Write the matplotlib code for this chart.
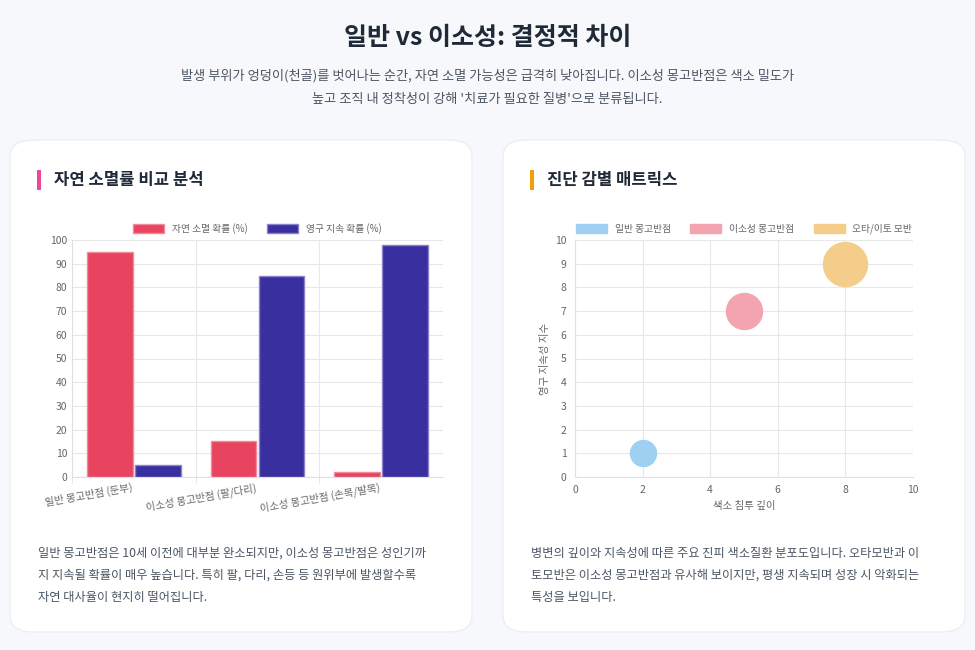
import numpy as np
import matplotlib
matplotlib.use("Agg")
import matplotlib.pyplot as plt
from matplotlib.patches import FancyBboxPatch, Rectangle, Patch

plt.rcParams['font.family'] = ['Noto Sans CJK KR', 'DejaVu Sans']

# --- data ---------------------------------------------------------------------
bar_cats = ["일반 몽고반점 (둔부)", "이소성 몽고반점 (팔/다리)", "이소성 몽고반점 (손목/발목)"]
resolve_pct = [95, 15, 2]
persist_pct = [5, 85, 98]
bar_labels = ["자연 소멸 확률 (%)", "영구 지속 확률 (%)"]

bubble_names = ["일반 몽고반점", "이소성 몽고반점", "오타/이토 모반"]
bubble_x = [2, 5, 8]
bubble_y = [1, 7, 9]
bubble_r = [13, 18, 22]   # radius in pixels
bubble_colors = ["#9fd0f2", "#f4a3b1", "#f5cd8a"]

W, H = 975, 650
fig = plt.figure(figsize=(W / 100, H / 100), dpi=100)
fig.patch.set_facecolor("#f7f8fb")


def fx(x): return x / W
def fy(y): return 1 - y / H


def axes_px(x0, y0, x1, y1):
    a = fig.add_axes([fx(x0), fy(y1), (x1 - x0) / W, (y1 - y0) / H])
    a.set_zorder(5)
    return a


# header
fig.text(0.5, fy(38), "일반 vs 이소성: 결정적 차이", ha="center", va="center",
         fontsize=18, fontweight="bold", color="#1f2937")
fig.text(0.5, fy(76), "발생 부위가 엉덩이(천골)를 벗어나는 순간, 자연 소멸 가능성은 급격히 낮아집니다. 이소성 몽고반점은 색소 밀도가",
         ha="center", va="center", fontsize=9.5, color="#4b5563")
fig.text(0.5, fy(99), "높고 조직 내 정착성이 강해 '치료가 필요한 질병'으로 분류됩니다.",
         ha="center", va="center", fontsize=9.5, color="#4b5563")

# cards
for x0, x1, accent, title in [(10, 472, "#ec4899", "자연 소멸률 비교 분석"),
                              (503, 965, "#f59e0b", "진단 감별 매트릭스")]:
    card = FancyBboxPatch((fx(x0), fy(632)), (x1 - x0) / W, (632 - 140) / H,
                          boxstyle="round,pad=0,rounding_size=0.025",
                          transform=fig.transFigure, facecolor="white",
                          edgecolor="#eceef2", lw=1, zorder=-2)
    fig.patches.append(card)
    fig.patches.append(Rectangle((fx(x0 + 27), fy(190)), 4 / W, 20 / H,
                                 transform=fig.transFigure, facecolor=accent,
                                 edgecolor="none", zorder=-1))
    fig.text(fx(x0 + 44), fy(180), title, ha="left", va="center",
             fontsize=12, fontweight="bold", color="#1f2937")

# left: bar chart
ax = axes_px(72, 240, 443, 477)
x = np.arange(len(bar_cats))
w = 0.37
ax.bar(x - w / 2 - 0.01, resolve_pct, w, color="#e8435f", edgecolor="#f28a9c", lw=1, label=bar_labels[0])
ax.bar(x + w / 2 + 0.01, persist_pct, w, color="#3a2f9e", edgecolor="#8a82d0", lw=1, label=bar_labels[1])
ax.set_xlim(-0.5, 2.5)
ax.set_ylim(0, 100)
ax.set_yticks(range(0, 101, 10))
ax.set_xticks(x)
ax.set_xticklabels(bar_cats, rotation=10, ha="right", fontsize=7.5, color="#666")
ax.set_xticks([-0.5, 0.5, 1.5], minor=True)
ax.grid(True, which="minor", axis="x", color="#e8e8e8", lw=0.8)
ax.grid(True, which="major", axis="y", color="#e8e8e8", lw=0.8)
ax.tick_params(axis="both", which="both", length=0, labelsize=7.5, labelcolor="#666")
ax.tick_params(axis="x", which="minor", length=4, color="#e0e0e0")
for s in ["top", "right"]:
    ax.spines[s].set_visible(False)
for s in ["left", "bottom"]:
    ax.spines[s].set_color("#e0e0e0")
ax.set_axisbelow(True)
ax.legend(loc="lower center", bbox_to_anchor=(0.5, 1.0), ncol=2, frameon=False,
          fontsize=7, handlelength=3.2, handleheight=1.1, labelcolor="#666", borderaxespad=0.2)

# right: bubble chart
bx = axes_px(575, 240, 913, 477)
for name, xv, yv, r, c in zip(bubble_names, bubble_x, bubble_y, bubble_r, bubble_colors):
    bx.scatter([xv], [yv], s=(2 * r * 0.72) ** 2, color=c, edgecolor=c, label=name, zorder=3,
               clip_on=False)
bx.set_xlim(0, 10)
bx.set_ylim(0, 10)
bx.set_xticks(range(0, 11, 2))
bx.set_yticks(range(0, 11, 1))
bx.grid(True, color="#e8e8e8", lw=0.8)
bx.set_axisbelow(True)
bx.tick_params(length=0, labelsize=7.5, labelcolor="#666", pad=6)
for s in ["top", "right"]:
    bx.spines[s].set_visible(False)
for s in ["left", "bottom"]:
    bx.spines[s].set_color("#e0e0e0")
bx.set_xlabel("색소 침투 깊이", fontsize=7.5, color="#666")
bx.set_ylabel("영구 지속성 지수", fontsize=7.5, color="#666")
bx.legend(handles=[Patch(facecolor=c, edgecolor=c) for c in bubble_colors], labels=bubble_names,
          loc="lower center", bbox_to_anchor=(0.5, 1.0), ncol=3, frameon=False,
          fontsize=7, labelcolor="#666", borderaxespad=0.2, handlelength=3.2, handleheight=1.1)

# descriptions
left_desc = ["일반 몽고반점은 10세 이전에 대부분 완소되지만, 이소성 몽고반점은 성인기까",
             "지 지속될 확률이 매우 높습니다. 특히 팔, 다리, 손등 등 원위부에 발생할수록",
             "자연 대사율이 현지히 떨어집니다."]
right_desc = ["병변의 깊이와 지속성에 따른 주요 진피 색소질환 분포도입니다. 오타모반과 이",
              "토모반은 이소성 몽고반점과 유사해 보이지만, 평생 지속되며 성장 시 악화되는",
              "특성을 보입니다."]
for i, (l, r) in enumerate(zip(left_desc, right_desc)):
    fig.text(fx(38), fy(553 + 22 * i), l, ha="left", va="center", fontsize=8.8, color="#4b5563")
    fig.text(fx(531), fy(553 + 22 * i), r, ha="left", va="center", fontsize=8.8, color="#4b5563")

fig.savefig("out.png", dpi=100, facecolor=fig.get_facecolor())
